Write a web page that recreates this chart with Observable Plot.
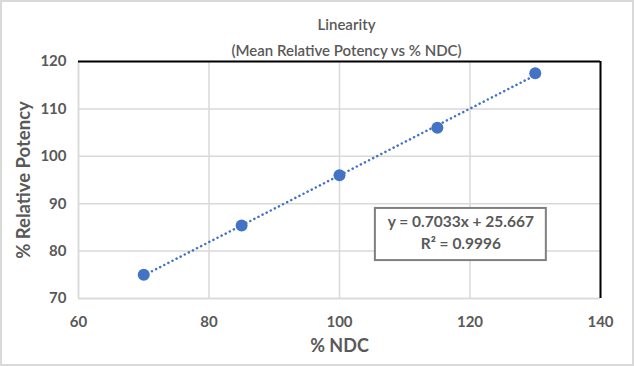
<!DOCTYPE html>
<html><head><meta charset="utf-8">
<script src="https://cdn.jsdelivr.net/npm/d3@7"></script>
<script src="https://cdn.jsdelivr.net/npm/@observablehq/plot@0.6"></script>
<style>
body{margin:0;background:#fff;}
#wrap{position:relative;width:634px;height:366px;}
#border{position:absolute;left:0;top:0;width:634px;height:366px;box-sizing:border-box;border:2px solid #d9d9d9;pointer-events:none;}
svg{font-family:Lato,"Open Sans",sans-serif;}
</style></head>
<body><div id="wrap"><div id="border"></div></div>
<script>
const ndc = [70, 85, 100, 115, 130];
const potency = [75.0, 85.4, 96.0, 106.0, 117.5];
const xTicks = [60, 80, 100, 120, 140];
const yTicks = [70, 80, 90, 100, 110, 120];
const titleLines = ["Linearity", "(Mean Relative Potency vs % NDC)"];
const eqLines = ["y = 0.7033x + 25.667", "R² = 0.9996"];
const data = ndc.map((x, i) => ({x, y: potency[i]}));
const gray = "#595959";
const blue = "#4472C4";
const chart = Plot.plot({
  width: 634, height: 366,
  marginLeft: 78, marginRight: 34, marginTop: 61, marginBottom: 68,
  x: {domain: [60, 140]},
  y: {domain: [70, 120]},
  marks: [
    Plot.gridX(xTicks, {stroke: "#d9d9d9", strokeOpacity: 1, strokeWidth: 1.5}),
    Plot.gridY(yTicks, {stroke: "#d9d9d9", strokeOpacity: 1, strokeWidth: 1.5}),
    Plot.ruleX([60], {stroke: "#d9d9d9", strokeWidth: 1.5}),
    Plot.ruleY([70], {stroke: "#d9d9d9", strokeWidth: 1.5}),
    Plot.ruleY([120], {stroke: "#000", strokeWidth: 2}),
    Plot.ruleX([140], {stroke: "#000", strokeWidth: 2}),
    Plot.axisX(xTicks, {tickSize: 0, tickPadding: 18, fontSize: 15, fontWeight: "bold", fill: gray, label: null}),
    Plot.axisY(yTicks, {tickSize: 0, tickPadding: 12, fontSize: 15, fontWeight: "bold", fill: gray, label: null}),
    Plot.linearRegressionY(data, {x: "x", y: "y", ci: 0, stroke: blue, strokeWidth: 2.5, strokeDasharray: "0.1 4.5", strokeLinecap: "round"}),
    Plot.dot(data, {x: "x", y: "y", r: 6, fill: blue, stroke: "none"}),
    Plot.rect([{x1: 105.5, x2: 131.7, y1: 78.0, y2: 89.0}], {x1: "x1", x2: "x2", y1: "y1", y2: "y2", fill: "#fff", stroke: "#7f7f7f", strokeWidth: 2}),
    Plot.text([eqLines[0]], {x: 118.6, y: 86.1, text: d => d, fontSize: 15.5, fontWeight: "bold", fill: gray}),
    Plot.text([eqLines[1]], {x: 118.6, y: 81.4, text: d => d, fontSize: 15.5, fontWeight: "bold", fill: gray}),
    Plot.text([titleLines[0]], {frameAnchor: "top", dx: 7, dy: -42, text: d => d, fontSize: 15, fontWeight: 600, fill: gray}),
    Plot.text([titleLines[1]], {frameAnchor: "top", dx: 7, dy: -16, text: d => d, fontSize: 15, fontWeight: 600, fill: gray}),
    Plot.text(["% NDC"], {frameAnchor: "bottom", dy: 53, text: d => d, fontSize: 18, fontWeight: "bold", fill: gray}),
    Plot.text(["% Relative Potency"], {frameAnchor: "left", textAnchor: "middle", dx: -54, rotate: -90, text: d => d, fontSize: 18.5, fontWeight: "bold", fill: gray})
  ]
});
document.getElementById("wrap").prepend(chart);
</script>
</body></html>
